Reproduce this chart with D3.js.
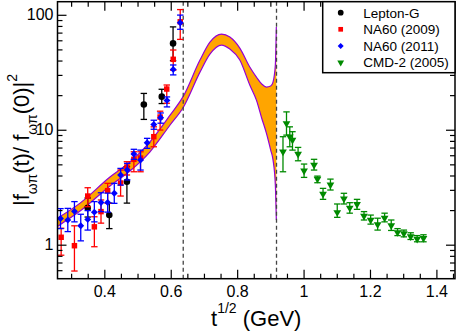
<!DOCTYPE html>
<html>
<head>
<meta charset="utf-8">
<script src="https://cdnjs.cloudflare.com/ajax/libs/d3/7.8.5/d3.min.js"></script>
<style>
body { margin: 0; background: #fff; }
svg { display: block; font-family: "Liberation Sans", Arial, Helvetica, sans-serif; }
</style>
</head>
<body>
<svg width="458" height="331"></svg>
<script>
// model band, upper and lower edge along t^1/2 (GeV)
var bandX  = [0.26, 0.327, 0.417, 0.477, 0.537, 0.598, 0.638, 0.688, 0.718, 0.753, 0.778, 0.808, 0.838, 0.858, 0.874, 0.888, 0.901, 0.908, 0.915, 0.918];
var bandHi = [1.71, 2.30, 3.88, 5.24, 7.82, 13.4, 19.6, 40.4, 57.9, 68.0, 64.0, 51.3, 35.1, 28.7, 25.0, 23.5, 24.0, 26.0, 36.6, 78.2];
var bandLo = [1.45, 1.96, 3.24, 4.37, 6.40, 11.0, 15.7, 31.7, 45.5, 54.5, 50.3, 40.4, 24.5, 18.1, 12.6, 9.36, 6.66, 5.46, 3.31, 1.64];

// data points: [t^1/2, value, lower, upper]
var leptonG = [
    [0.350, 2.09, 1.74, 2.55],
    [0.415, 1.81, 1.38, 2.30],
    [0.468, 3.53, 2.30, 4.78],
    [0.519, 16.6, 12.3, 20.7],
    [0.573, 19.4, 16.9, 22.5],
    [0.607, 56.4, 39.9, 78.5]
];
var na60_2009 = [
    [0.270, 1.16, 0.81, 1.39],
    [0.310, 0.98, 0.59, 1.46],
    [0.350, 2.65, 2.14, 3.13],
    [0.370, 1.43, 0.96, 1.75],
    [0.390, 1.94, 1.54, 2.45],
    [0.410, 2.95, 2.29, 3.42],
    [0.449, 3.44, 2.65, 4.46],
    [0.468, 4.74, 4.04, 5.27],
    [0.489, 5.53, 4.31, 6.43],
    [0.509, 5.67, 4.31, 6.43],
    [0.549, 8.70, 7.11, 10.6],
    [0.568, 12.9, 9.94, 14.5],
    [0.588, 22.6, 17.0, 24.5],
    [0.6075, 41.0, 33.0, 49.4],
    [0.6286, 86.9, 61.1, 111]
];
var na60_2011 = [
    [0.268, 1.69, 1.38, 2.06],
    [0.290, 1.64, 1.30, 2.07],
    [0.310, 1.95, 1.58, 2.37],
    [0.329, 1.46, 1.08, 1.84],
    [0.350, 1.66, 1.34, 1.98],
    [0.370, 1.92, 1.58, 2.37],
    [0.390, 2.33, 1.94, 2.83],
    [0.410, 2.33, 1.92, 2.81],
    [0.430, 2.80, 2.29, 3.42],
    [0.449, 4.04, 3.30, 4.61],
    [0.469, 4.46, 3.66, 5.10],
    [0.489, 6.15, 5.53, 6.76],
    [0.509, 5.45, 4.46, 6.65],
    [0.529, 7.71, 6.89, 8.42],
    [0.549, 11.1, 10.1, 12.1],
    [0.5696, 12.7, 11.4, 14.0],
    [0.5886, 18.0, 15.8, 19.3],
    [0.6075, 33.5, 30.0, 36.6],
    [0.6286, 85.2, 74.8, 99.4]
];
var cmd2 = [
    [0.938, 6.44, 4.31, 8.70],
    [0.9486, 11.36, 8.98, 14.3],
    [0.9585, 8.70, 7.11, 10.6],
    [0.9666, 8.14, 6.65, 9.62],
    [0.9835, 6.15, 5.37, 7.02],
    [1.0015, 4.40, 3.85, 5.03],
    [1.0316, 4.93, 4.46, 5.53],
    [1.0418, 3.73, 3.46, 3.95],
    [1.0586, 2.76, 2.48, 3.09],
    [1.0809, 3.32, 2.99, 3.72],
    [1.1014, 1.91, 1.73, 2.26],
    [1.1215, 2.51, 2.26, 2.80],
    [1.139, 2.09, 1.88, 2.32],
    [1.161, 2.25, 2.03, 2.48],
    [1.182, 1.78, 1.64, 1.94],
    [1.202, 1.64, 1.51, 1.81],
    [1.223, 1.50, 1.34, 1.70],
    [1.244, 1.71, 1.58, 1.88],
    [1.264, 1.47, 1.33, 1.64],
    [1.283, 1.28, 1.20, 1.38],
    [1.302, 1.25, 1.17, 1.34],
    [1.3225, 1.18, 1.11, 1.27],
    [1.342, 1.12, 1.06, 1.20],
    [1.361, 1.14, 1.06, 1.22]
];

var xTicks = [0.4, 0.6, 0.8, 1, 1.2, 1.4];
var xTickLabels = ['0.4', '0.6', '0.8', '1', '1.2', '1.4'];
var yTicks = [1, 10, 100];
var yTickLabels = ['1', '10', '100'];
var thresholds = [0.6376, 0.9185];
var legendNames = ['Lepton-G', 'NA60 (2009)', 'NA60 (2011)', 'CMD-2 (2005)'];

var svg = d3.select('svg');

var xScale = d3.scaleLinear().domain([0.259, 1.456]).range([57.5, 455]);
var yScale = d3.scaleLog().domain([0.506, 130]).range([278.7, 1.7]);

var plotLeft = xScale.range()[0], plotRight = xScale.range()[1];
var plotTop = yScale.range()[1], plotBottom = yScale.range()[0];

// minor tick positions
var xMinor = d3.range(0.3, 1.451, 0.05).filter(function(v) {
    return xTicks.every(function(t) { return Math.abs(t - v) > 1e-6; });
});
var yMinor = [];
[0.1, 1, 10].forEach(function(dec) {
    d3.range(2, 10).forEach(function(k) {
        var v = dec * k;
        if (v > 0.506 && v < 130) yMinor.push(v);
    });
});

svg.append('defs').append('clipPath').attr('id', 'clip')
    .append('rect').attr('x', plotLeft).attr('y', plotTop)
    .attr('width', plotRight - plotLeft).attr('height', plotBottom - plotTop);
var plotG = svg.append('g');

// band
var band = bandX.map(function(x, i) { return {x: x, hi: bandHi[i], lo: bandLo[i]}; });
var area = d3.area()
    .x(function(d) { return xScale(d.x); })
    .y0(function(d) { return yScale(d.lo); })
    .y1(function(d) { return yScale(d.hi); })
    .curve(d3.curveMonotoneX);
plotG.append('path').datum(band)
    .attr('clip-path', 'url(#clip)')
    .attr('d', area)
    .attr('fill', '#ffa500');
['hi', 'lo'].forEach(function(k) {
    var line = d3.line()
        .x(function(d) { return xScale(d.x); })
        .y(function(d) { return yScale(d[k]); })
        .curve(d3.curveMonotoneX);
    plotG.append('path').datum(band)
        .attr('d', line)
        .attr('fill', 'none')
        .attr('stroke', '#9400d3')
        .attr('stroke-width', 1.2);
});

// threshold lines
plotG.selectAll('.thr').data(thresholds).enter()
    .append('line')
    .attr('class', 'thr')
    .attr('x1', function(d) { return xScale(d); })
    .attr('x2', function(d) { return xScale(d); })
    .attr('y1', plotTop).attr('y2', plotBottom)
    .attr('stroke', '#444')
    .attr('stroke-width', 1.3)
    .attr('stroke-dasharray', '4,3');

// series
var series = [
    {data: leptonG, color: '#000000', type: d3.symbolCircle, size: 34, rot: 0},
    {data: na60_2009, color: '#ff0000', type: d3.symbolSquare, size: 30, rot: 0},
    {data: na60_2011, color: '#0000ff', type: d3.symbolSquare, size: 24, rot: 45},
    {data: cmd2, color: '#008a00', type: d3.symbolTriangle, size: 26, rot: 180}
];

series.forEach(function(s) {
    var g = plotG.append('g');
    var pts = g.selectAll('.pt').data(s.data).enter().append('g').attr('class', 'pt');
    // error bar
    pts.append('line')
        .attr('x1', function(d) { return xScale(d[0]); })
        .attr('x2', function(d) { return xScale(d[0]); })
        .attr('y1', function(d) { return yScale(d[2]); })
        .attr('y2', function(d) { return yScale(d[3]); })
        .attr('stroke', s.color).attr('stroke-width', 1.3);
    [2, 3].forEach(function(j) {
        pts.append('line')
            .attr('x1', function(d) { return xScale(d[0]) - 3.2; })
            .attr('x2', function(d) { return xScale(d[0]) + 3.2; })
            .attr('y1', function(d) { return yScale(d[j]); })
            .attr('y2', function(d) { return yScale(d[j]); })
            .attr('stroke', s.color).attr('stroke-width', 1.3);
    });
    pts.append('path')
        .attr('d', d3.symbol().type(s.type).size(s.size))
        .attr('transform', function(d) {
            return 'translate(' + xScale(d[0]) + ',' + yScale(d[1]) + ') rotate(' + s.rot + ')';
        })
        .attr('fill', s.color);
});

// axes: major + minor ticks on all four sides, pointing inward
function styleAxis(g) {
    g.select('.domain').remove();
    g.selectAll('line').attr('stroke', '#000').attr('stroke-width', 1.2);
    g.attr('font-size', 16).attr('font-family', '"Liberation Sans", Arial, Helvetica, sans-serif');
    g.selectAll('text').attr('fill', '#000');
}

svg.append('g').attr('transform', 'translate(0,' + plotBottom + ')')
    .call(d3.axisBottom(xScale).tickValues(xTicks).tickSize(-9).tickPadding(7)
        .tickFormat(function(d, i) { return xTickLabels[i]; }))
    .call(styleAxis);
svg.append('g').attr('transform', 'translate(0,' + plotBottom + ')')
    .call(d3.axisBottom(xScale).tickValues(xMinor).tickSize(-5).tickFormat(''))
    .call(styleAxis);
svg.append('g').attr('transform', 'translate(0,' + plotTop + ')')
    .call(d3.axisTop(xScale).tickValues(xTicks).tickSize(-9).tickFormat(''))
    .call(styleAxis);
svg.append('g').attr('transform', 'translate(0,' + plotTop + ')')
    .call(d3.axisTop(xScale).tickValues(xMinor).tickSize(-5).tickFormat(''))
    .call(styleAxis);

svg.append('g').attr('transform', 'translate(' + plotLeft + ',0)')
    .call(d3.axisLeft(yScale).tickValues(yTicks).tickSize(-9).tickPadding(4)
        .tickFormat(function(d, i) { return yTickLabels[i]; }))
    .call(styleAxis);
svg.append('g').attr('transform', 'translate(' + plotLeft + ',0)')
    .call(d3.axisLeft(yScale).tickValues(yMinor).tickSize(-5).tickFormat(''))
    .call(styleAxis);
svg.append('g').attr('transform', 'translate(' + plotRight + ',0)')
    .call(d3.axisRight(yScale).tickValues(yTicks).tickSize(-9).tickFormat(''))
    .call(styleAxis);
svg.append('g').attr('transform', 'translate(' + plotRight + ',0)')
    .call(d3.axisRight(yScale).tickValues(yMinor).tickSize(-5).tickFormat(''))
    .call(styleAxis);

// frame
svg.append('rect')
    .attr('x', plotLeft).attr('y', plotTop)
    .attr('width', plotRight - plotLeft).attr('height', plotBottom - plotTop)
    .attr('fill', 'none').attr('stroke', '#000').attr('stroke-width', 1.5);

// axis titles
var xTitle = svg.append('text')
    .attr('x', (plotLeft + plotRight) / 2).attr('y', 326)
    .attr('text-anchor', 'middle')
    .attr('font-size', 22);
xTitle.append('tspan').text('t');
xTitle.append('tspan').attr('font-size', 14).attr('dy', -13).text('1/2');
xTitle.append('tspan').attr('dy', 13).text(' (GeV)');

var yTitle = svg.append('text')
    .attr('transform', 'translate(29,140) rotate(-90)')
    .attr('text-anchor', 'middle')
    .attr('font-size', 22);
yTitle.append('tspan').text('|f');
yTitle.append('tspan').attr('font-size', 14).attr('dy', 8).text('ωπ');
yTitle.append('tspan').attr('dy', -8).text('(t)/ f');
yTitle.append('tspan').attr('font-size', 14).attr('dy', 8).text('ωπ');
yTitle.append('tspan').attr('dy', -8).text('(0)|');
yTitle.append('tspan').attr('font-size', 14).attr('dy', -12).text('2');

// legend
var legend = svg.append('g');
legend.append('rect')
    .attr('x', 322.7).attr('y', plotTop)
    .attr('width', plotRight - 322.7).attr('height', 71)
    .attr('fill', '#fff').attr('stroke', '#000').attr('stroke-width', 1.5);
var legendSizes = [26, 22, 18, 20];
var rows = legend.selectAll('.row').data(series).enter()
    .append('g').attr('class', 'row')
    .attr('transform', function(d, i) { return 'translate(340.7,' + (12.7 + i * 16.6) + ')'; });
rows.append('path')
    .attr('d', function(d, i) { return d3.symbol().type(d.type).size(legendSizes[i])(); })
    .attr('transform', function(d) { return 'rotate(' + d.rot + ')'; })
    .attr('fill', function(d) { return d.color; });
rows.append('text')
    .attr('x', 22.5).attr('dy', '0.36em')
    .attr('font-size', 13.5)
    .text(function(d, i) { return legendNames[i]; });
</script>
</body>
</html>
